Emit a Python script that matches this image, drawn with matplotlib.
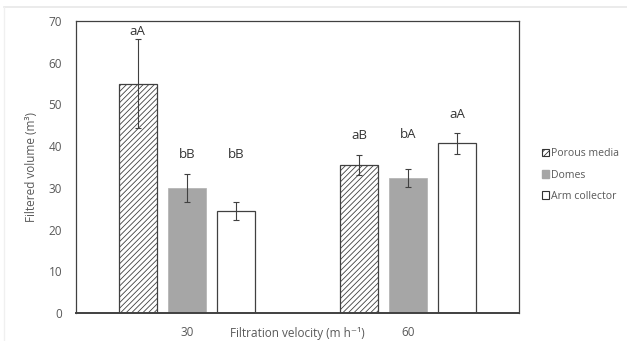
import numpy as np
import matplotlib.pyplot as plt
import matplotlib.patches as mpatches
from matplotlib.lines import Line2D

plt.rcParams['font.family'] = ['Open Sans', 'DejaVu Sans']
plt.rcParams['hatch.color'] = '#7a7a7a'
plt.rcParams['hatch.linewidth'] = 0.6

# data
velocities = ['30', '60']
series = ['Porous media', 'Domes', 'Arm collector']
values = {
    'Porous media': [55.0, 35.5],
    'Domes': [30.0, 32.3],
    'Arm collector': [24.4, 40.7],
}
errors = {
    'Porous media': [10.7, 2.3],
    'Domes': [3.4, 2.2],
    'Arm collector': [2.2, 2.5],
}
letters = {
    'Porous media': ['aA', 'aB'],
    'Domes': ['bB', 'bA'],
    'Arm collector': ['bB', 'aA'],
}
letter_y = {
    'Porous media': [67.5, 42.5],
    'Domes': [38.0, 42.8],
    'Arm collector': [38.0, 47.6],
}

styles = {
    'Porous media': dict(color='white', edgecolor='#404040', hatch='//////', linewidth=0.9),
    'Domes': dict(color='#a6a6a6', edgecolor='#b0b0b0', linewidth=0.5),
    'Arm collector': dict(color='white', edgecolor='#404040', linewidth=0.9),
}

txt = '#595959'

fig = plt.figure(figsize=(6.27, 3.41), dpi=100)
ax = fig.add_axes([76 / 627, 1 - 313 / 341, 443 / 627, 292 / 341])

x = np.arange(len(velocities))
width = 0.172
step = 0.221

for i, s in enumerate(series):
    pos = x + (i - 1) * step
    ax.bar(pos, values[s], width, label=s, **styles[s])
    ax.errorbar(pos, values[s], yerr=errors[s], fmt='none', ecolor='#404040',
                elinewidth=0.8, capsize=2.5, capthick=0.8)
    for p, lab, ly in zip(pos, letters[s], letter_y[s]):
        ax.text(p, ly, lab, ha='center', va='center', fontsize=9.5, color='#333333')

ax.set_xlim(-0.5, 1.5)
ax.set_ylim(0, 70)
ax.set_yticks(np.arange(0, 71, 10))
ax.set_xticks(x)
ax.set_xticklabels(velocities)
ax.tick_params(length=0, labelsize=8.5, labelcolor=txt)
ax.tick_params(axis='y', pad=10)
ax.tick_params(axis='x', pad=9)
for side in ['top', 'right', 'left']:
    ax.spines[side].set_linewidth(0.9)
    ax.spines[side].set_color('#404040')
ax.spines['bottom'].set_linewidth(1.4)
ax.spines['bottom'].set_color('#404040')

ax.set_ylabel('Filtered volume (m³)', fontsize=8.5, color=txt)
ax.yaxis.set_label_coords(-38 / 443, 0.5)
ax.set_xlabel('Filtration velocity (m h⁻¹)', fontsize=8.5, color=txt, va='center',
              family=['Open Sans', 'DejaVu Sans'])
ax.xaxis.set_label_coords(0.5, -20 / 292)

handles = [mpatches.Patch(facecolor='white', edgecolor='#333333', hatch='//////', linewidth=0.8),
           mpatches.Patch(facecolor='#a6a6a6', edgecolor='#a6a6a6'),
           mpatches.Patch(facecolor='white', edgecolor='#333333', linewidth=0.8)]
fig.legend(handles, series, loc='center left', bbox_to_anchor=(532 / 627, 1 - 175 / 341),
           frameon=False, fontsize=7.6, labelcolor=txt, handlelength=0.7, handleheight=0.7,
           handletextpad=0.2, labelspacing=0.95)

# faint frame of the original image
fig.add_artist(Line2D([4 / 627, 1], [1 - 6.5 / 341, 1 - 6.5 / 341], color='#e8e8e8', lw=1.2))
fig.add_artist(Line2D([4 / 627, 4 / 627], [0, 1 - 6.5 / 341], color='#f0f0f0', lw=1.0))

fig.savefig('out.png', dpi=100)
